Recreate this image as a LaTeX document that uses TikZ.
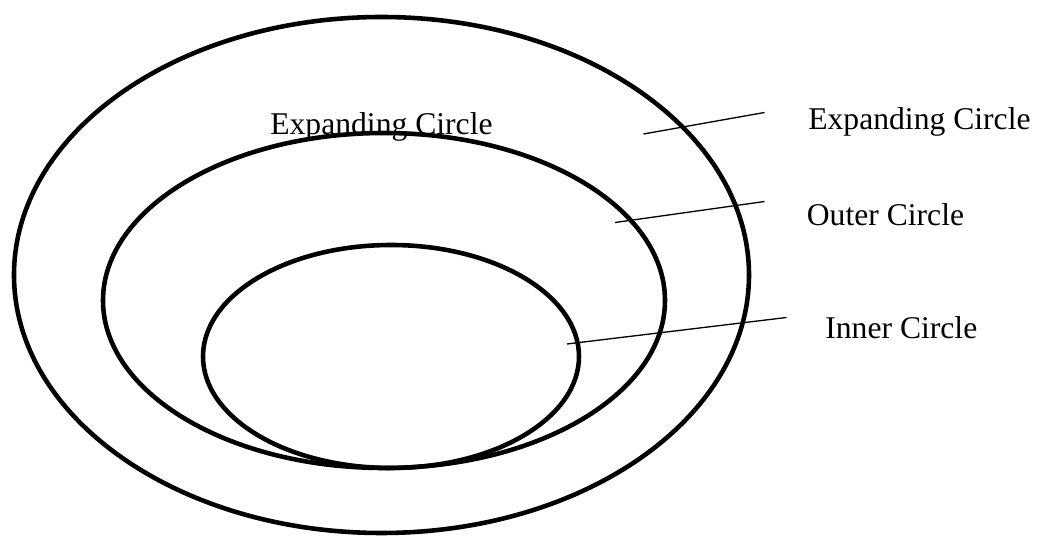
\documentclass[tikz,border=0pt]{standalone}
\usepackage{fontspec}
\setmainfont{Liberation Serif}
\usepackage{tikz}

\begin{document}
\begin{tikzpicture}[x=1cm,y=1cm,
  ring/.style={line width=2.6pt},
  leader/.style={line width=0.75pt},
  lbl/.style={anchor=base west,inner sep=0pt,font=\fontsize{18pt}{20pt}\selectfont}]
\path[use as bounding box] (0,0) rectangle (20.74,-10.72);
% label text sits under the rings
\node[lbl] (expin) at (5.40,-2.686) {Expanding Circle};
\draw[ring] (7.63,-5.50) ellipse [x radius=7.35,y radius=5.16];
\draw[ring] (7.68,-6.01) ellipse [x radius=5.62,y radius=3.35];
\draw[ring] (7.82,-7.13) ellipse [x radius=3.76,y radius=2.23];
% key on the right
\node[lbl] (expand) at (16.16,-2.60) {Expanding Circle};
\node[lbl] (outer) at (16.13,-4.52) {Outer Circle};
\node[lbl] (inner) at (16.50,-6.77) {Inner Circle};
\coordinate (expfrom) at (12.87,-2.68);
\coordinate (expto) at (15.29,-2.25);
\coordinate (outfrom) at (12.30,-4.45);
\coordinate (outto) at (15.29,-4.03);
\coordinate (infrom) at (11.34,-6.88);
\coordinate (into) at (15.73,-6.35);
\draw[leader] (expfrom) -- (expto);
\draw[leader] (outfrom) -- (outto);
\draw[leader] (infrom) -- (into);
\end{tikzpicture}
\end{document}
